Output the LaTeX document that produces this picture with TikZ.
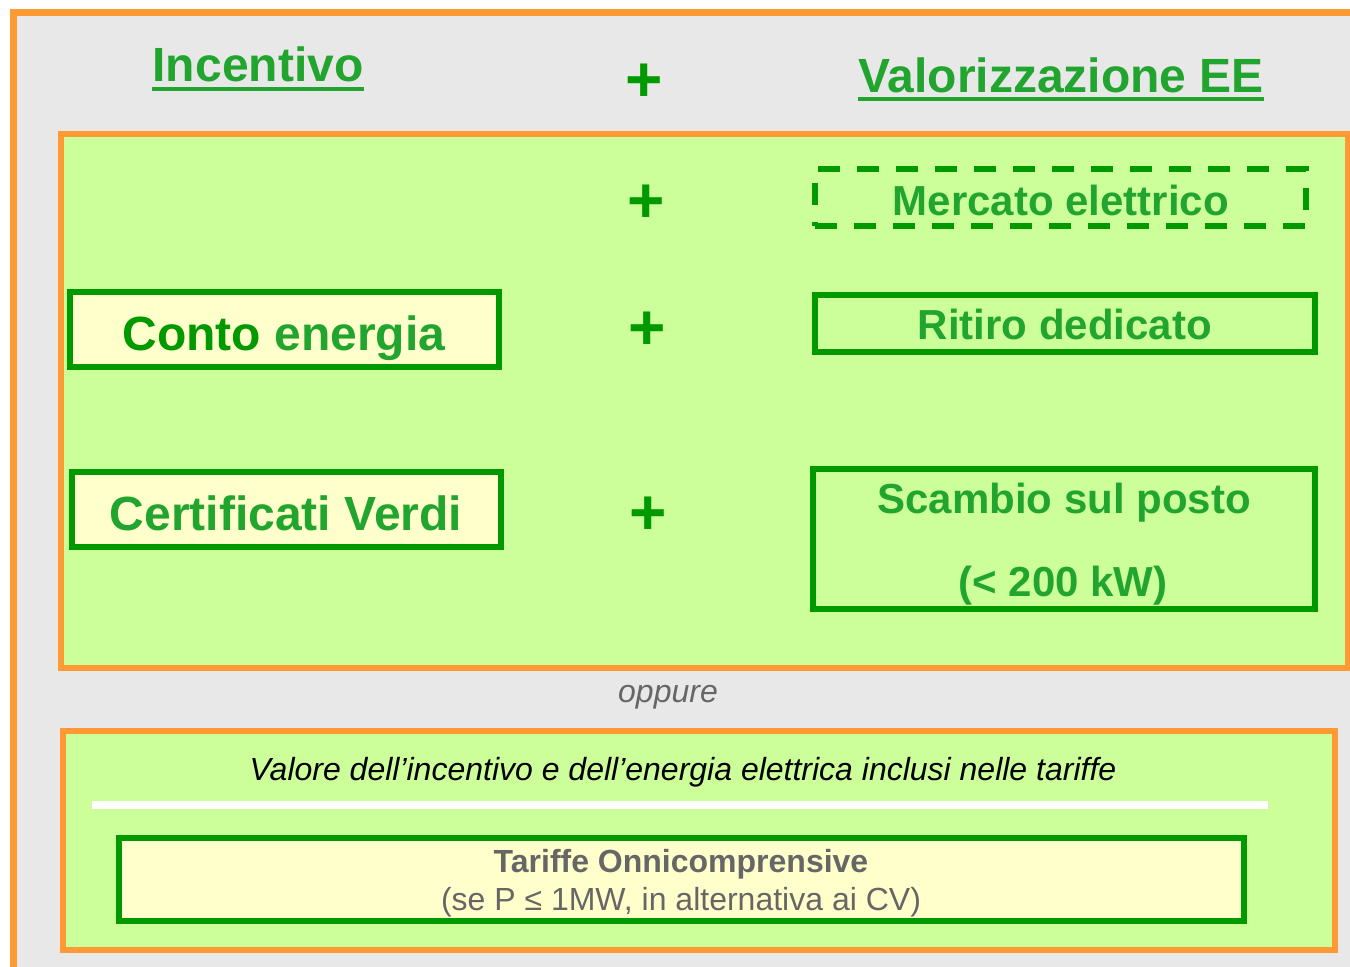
\documentclass[tikz,border=0pt]{standalone}
\usepackage{fontspec}
\setmainfont{Liberation Sans}
\usepackage{xcolor}
\usetikzlibrary{positioning}
\definecolor{arancio}{HTML}{FF9933}
\definecolor{grigio}{HTML}{E8E8E8}
\definecolor{verdechiaro}{HTML}{CCFF99}
\definecolor{verdescuro}{HTML}{009900}
\definecolor{verdetesto}{HTML}{22A52E}
\definecolor{giallino}{HTML}{FFFFCC}
\definecolor{grigiotesto}{HTML}{666666}

\begin{document}
\begin{tikzpicture}[x=0.5pt,y=-0.5pt,
  pannello/.style={draw=arancio,line width=3pt,fill=verdechiaro},
  casella/.style={draw=verdescuro,line width=2.9pt,inner sep=0pt},
  titolo/.style={font=\fontsize{24}{28}\selectfont\bfseries,text=verdetesto,inner sep=0pt,anchor=base},
  voce/.style={font=\fontsize{21}{25}\selectfont\bfseries,text=verdetesto,inner sep=0pt,anchor=base},
  piu/.style={font=\fontsize{32}{36}\selectfont\bfseries,text=verdescuro,inner sep=0pt},
  nota/.style={font=\fontsize{16}{19}\selectfont,inner sep=0pt,anchor=base}]
\useasboundingbox (0,0) rectangle (1350,967);
\fill[white] (0,0) rectangle (1350,967);
\draw[arancio,line width=3.5pt,fill=grigio] (13,13) rectangle (1400,1010);
\draw[pannello] (61,134) rectangle (1348,668);
\draw[pannello] (63,731) rectangle (1335,950);
\draw[white,line width=4pt] (92,805) -- (1268,805);

\node[titolo] (incentivo) at (258,82) {Incentivo};
\node[titolo] (valorizz) at (1061,93) {Valorizzazione EE};
\draw[verdetesto,line width=2pt] ([yshift=-3.4pt]incentivo.base west) -- ([yshift=-3.4pt]incentivo.base east);
\draw[verdetesto,line width=2pt] ([yshift=-3.1pt]valorizz.base west) -- ([yshift=-3.1pt]valorizz.base east);

\node[piu] (p0) at (644,83) {+};
\node[piu] (p1) at (646,204) {+};
\node[piu] (p2) at (647,331) {+};
\node[piu] (p3) at (648,516) {+};

\node[casella,fill=giallino,minimum width=214.5pt,minimum height=37.5pt] (conto) at (284.5,329.5) {};
\node[casella,fill=giallino,minimum width=214.5pt,minimum height=37.5pt] (certif) at (286.5,509.5) {};
\node[casella,dashed,dash pattern=on 11pt off 8.5pt,minimum width=245.5pt,minimum height=28.5pt] (mercato) at (1060.5,197.5) {};
\node[casella,minimum width=250pt,minimum height=28.5pt] (ritiro) at (1065,323.5) {};
\node[casella,minimum width=251pt,minimum height=70pt] (scambio) at (1064,539) {};
\node[casella,fill=giallino,minimum width=562.5pt,minimum height=41.5pt] (tariffe) at (681.5,879.5) {};

\node[titolo] (contotxt) at (284,351) {\textcolor{verdescuro}{Conto} energia};
\node[titolo] (certiftxt) at (286,531) {Certificati Verdi};
\node[voce] (mercatotxt) at (1061,216) {Mercato elettrico};
\node[voce] (ritirotxt) at (1065,340) {Ritiro dedicato};
\node[voce] (scambiotxt) at (1064,514) {Scambio sul posto};
\node[voce] (potenza) at (1063,597) {(< 200 kW)};

\node[nota,text=grigiotesto,font=\fontsize{16}{19}\selectfont\itshape] (oppure) at (668,703) {oppure};
\node[nota,font=\fontsize{16}{19}\selectfont\itshape] (valore) at (683,780) {Valore dell’incentivo e dell’energia elettrica inclusi nelle tariffe};
\node[nota,text=grigiotesto,font=\fontsize{16}{19}\selectfont\bfseries] (tariffetxt) at (681,872) {Tariffe Onnicomprensive};
\node[nota,text=grigiotesto] (condizione) at (681,910) {(se P ≤ 1MW, in alternativa ai CV)};
\end{tikzpicture}
\end{document}
